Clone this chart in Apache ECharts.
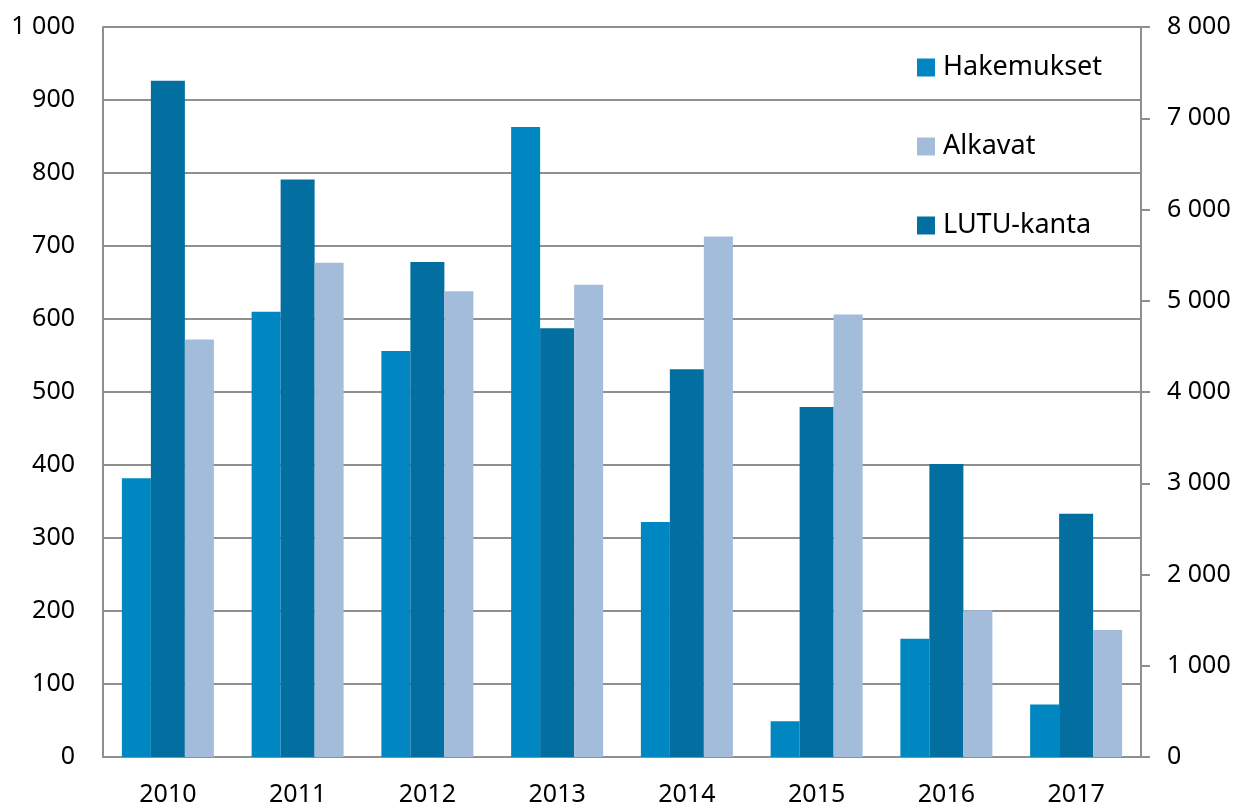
<!DOCTYPE html>
<html>
<head>
<meta charset="utf-8">
<script src="https://cdn.jsdelivr.net/npm/echarts@6/dist/echarts.min.js"></script>
<style>
html,body{margin:0;padding:0;background:#fff;}
#chart{width:1237px;height:807px;}
</style>
</head>
<body>
<div id="chart"></div>
<script>
var years = ['2010','2011','2012','2013','2014','2015','2016','2017'];
var hakemukset = [382, 610, 556, 863, 322, 49, 162, 72];
var lutuKanta = [7410, 6330, 5425, 4700, 4250, 3835, 3210, 2665];
var alkavat = [572, 677, 638, 647, 713, 606, 201, 174];
var legendOrder = ['Hakemukset', 'Alkavat', 'LUTU-kanta'];

function fmt(v){
  return String(v).replace(/\B(?=(\d{3})+(?!\d))/g, ' ');
}
var font = 'Noto Sans';
var gridColor = '#8f8f8f';

var chart = echarts.init(document.getElementById('chart'));
chart.setOption({
  animation: false,
  backgroundColor: '#ffffff',
  textStyle: {fontFamily: font},
  grid: {left: 103, right: 96, top: 27, bottom: 48, containLabel: false},
  legend: {
    data: legendOrder,
    orient: 'vertical',
    left: 912,
    top: 49,
    itemWidth: 18,
    itemHeight: 18,
    itemGap: 52,
    icon: 'rect',
    textStyle: {fontFamily: font, fontSize: 27, color: '#000', padding: [0,0,0,3]},
    selectedMode: false
  },
  xAxis: {
    type: 'category',
    data: years,
    axisLine: {show: true, lineStyle: {color: gridColor, width: 2}},
    axisTick: {show: false},
    axisLabel: {fontFamily: font, fontSize: 25, color: '#000', margin: 25}
  },
  yAxis: [
    {
      type: 'value', min: 0, max: 1000, interval: 100,
      axisLine: {show: true, lineStyle: {color: gridColor, width: 2}},
      axisTick: {show: false},
      splitLine: {show: true, lineStyle: {color: gridColor, width: 2}},
      axisLabel: {fontFamily: font, fontSize: 25, color: '#000', margin: 28, formatter: fmt}
    },
    {
      type: 'value', min: 0, max: 8000, interval: 1000, position: 'right',
      axisLine: {show: true, lineStyle: {color: gridColor, width: 2}},
      axisTick: {show: true, inside: false, length: 9, lineStyle: {color: gridColor, width: 2}},
      splitLine: {show: false},
      axisLabel: {fontFamily: font, fontSize: 25, color: '#000', margin: 26, formatter: fmt}
    }
  ],
  series: [
    {name: 'Hakemukset', type: 'bar', data: hakemukset, yAxisIndex: 0, barWidth: 29, barGap: '0%',
     itemStyle: {color: '#0087C1'}},
    {name: 'LUTU-kanta', type: 'bar', data: lutuKanta, yAxisIndex: 1, barWidth: 34, barGap: '0%',
     itemStyle: {color: '#036EA0'}},
    {name: 'Alkavat', type: 'bar', data: alkavat, yAxisIndex: 0, barWidth: 29, barGap: '0%',
     itemStyle: {color: '#A3BCD9'}}
  ]
});
</script>
</body>
</html>
